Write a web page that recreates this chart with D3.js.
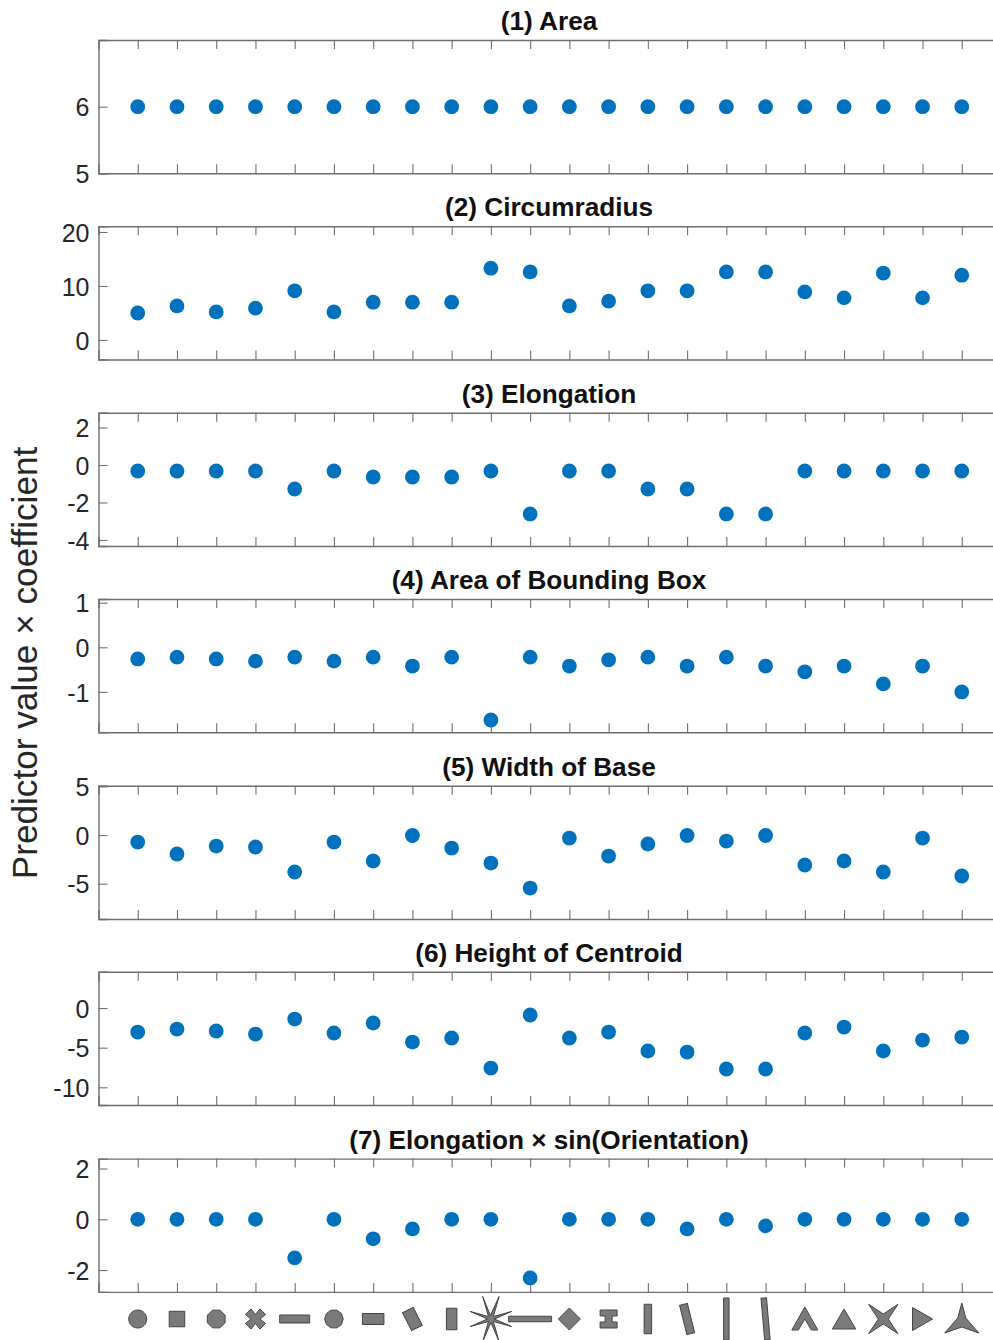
<!DOCTYPE html>
<html>
<head>
<meta charset="utf-8">
<script src="https://cdn.jsdelivr.net/npm/d3@7"></script>
<style>
  html, body { margin: 0; padding: 0; background: #fff; }
  svg { display: block; font-family: "Liberation Sans", Arial, sans-serif; }
</style>
</head>
<body>
<div id="chart"></div>
<script>
// one entry per panel, top to bottom
const titles = ["(1) Area", "(2) Circumradius", "(3) Elongation", "(4) Area of Bounding Box",
  "(5) Width of Base", "(6) Height of Centroid", "(7) Elongation \u00d7 sin(Orientation)"];

const yDomains = [[5, 7], [-3.61, 21.07], [-4.32, 2.79], [-1.906, 1.083], [-8.63, 5.07], [-12.23, 4.58], [-2.86, 2.39]];
const yTicks = [[5, 6], [0, 10, 20], [-4, -2, 0, 2], [-1, 0, 1], [-5, 0, 5], [-10, -5, 0], [-2, 0, 2]];

const area = [6, 6, 6, 6, 6, 6, 6, 6, 6, 6, 6, 6, 6, 6, 6, 6, 6, 6, 6, 6, 6, 6];
const circumradius = [5, 6.3, 5.2, 5.9, 9.1, 5.2, 7, 7, 7, 13.3, 12.6, 6.3, 7.2, 9.1, 9.1, 12.6, 12.6, 8.9, 7.8, 12.4, 7.8, 12];
const elongation = [-0.32, -0.32, -0.32, -0.32, -1.28, -0.32, -0.64, -0.64, -0.64, -0.32, -2.61, -0.32, -0.32, -1.28, -1.28, -2.61, -2.61, -0.32, -0.32, -0.32, -0.32, -0.32];
const boundingBox = [-0.26, -0.22, -0.26, -0.31, -0.22, -0.31, -0.22, -0.42, -0.22, -1.63, -0.22, -0.42, -0.28, -0.22, -0.42, -0.22, -0.42, -0.55, -0.42, -0.82, -0.42, -1];
const widthBase = [-0.72, -1.95, -1.13, -1.23, -3.8, -0.72, -2.67, -0.05, -1.34, -2.88, -5.45, -0.31, -2.16, -0.92, -0.05, -0.62, -0.05, -3.08, -2.67, -3.8, -0.31, -4.21];
const heightCentroid = [-3.03, -2.65, -2.9, -3.28, -1.39, -3.15, -1.89, -4.29, -3.78, -7.57, -0.88, -3.78, -3.03, -5.42, -5.55, -7.69, -7.69, -3.15, -2.4, -5.42, -4.04, -3.66];
const elongationSin = [0, 0, 0, 0, -1.52, 0, -0.77, -0.38, 0, 0, -2.31, 0, 0, 0, -0.38, 0, -0.26, 0, 0, 0, 0, 0];

const series = [area, circumradius, elongation, boundingBox, widthBase, heightCentroid, elongationSin];

// silhouettes under the last panel, in the order of the x positions
const shapeKinds = ["circle", "square", "octagon", "cross", "rect31", "decagon", "rect22", "tilted14",
  "rect11", "star8", "rect43", "diamond", "hbeam", "rect8", "tilted11", "rect6", "tilted6",
  "chevron", "triangle", "star4", "play", "star3"];

const width = 993, height = 1340;
const left = 98.5, panelH = 133.3;
const panelTops = [40, 226.2, 412.7, 599, 785.7, 971.7, 1158.6];

const svg = d3.select("#chart").append("svg")
    .attr("width", width)
    .attr("height", height);

// box runs past the right edge of the picture, same as the original crop
const x = d3.scaleLinear().domain([0, 23]).range([left, left + 23 * 39.24]);
const xIndex = d3.range(1, 23);

const axisColor = "#6e6e6e";
const textColor = "#262626";

series.forEach(function (values, i) {
  const top = panelTops[i];
  const y = d3.scaleLinear().domain(yDomains[i]).range([panelH, 0]);
  const g = svg.append("g").attr("transform", "translate(0," + top + ")");

  g.append("g")
      .attr("transform", "translate(0," + panelH + ")")
      .call(d3.axisBottom(x).tickValues(xIndex).tickSize(-9).tickFormat(""));
  g.append("g")
      .call(d3.axisTop(x).tickValues(xIndex).tickSize(-9).tickFormat(""));
  g.append("g")
      .attr("transform", "translate(" + left + ",0)")
      .call(d3.axisLeft(y).tickValues(yTicks[i]).tickSize(-9).tickPadding(9).tickFormat(d => String(d)));

  g.selectAll(".domain").attr("stroke", axisColor).attr("stroke-width", 1.4);
  g.selectAll(".tick line").attr("stroke", axisColor).attr("stroke-width", 1.1);
  g.selectAll(".tick text")
      .attr("fill", textColor)
      .attr("dy", "0.37em")
      .style("font-size", "25px");

  g.append("text")
      .attr("x", 549)
      .attr("y", -10)
      .attr("text-anchor", "middle")
      .attr("fill", "#111")
      .style("font-size", "26.2px")
      .style("font-weight", "bold")
      .text(titles[i]);

  g.selectAll("circle")
    .data(values)
    .join("circle")
      .attr("cx", (d, j) => x(xIndex[j]))
      .attr("cy", d => y(d))
      .attr("r", 7.4)
      .attr("fill", "#0072BD");
});

svg.append("text")
    .attr("transform", "translate(37,663) rotate(-90)")
    .attr("text-anchor", "middle")
    .attr("fill", textColor)
    .style("font-size", "35.2px")
    .text("Predictor value \u00d7 coefficient");

// helpers for the silhouette outlines, centred on 0,0
function rect(w, h) {
  return [[-w / 2, -h / 2], [w / 2, -h / 2], [w / 2, h / 2], [-w / 2, h / 2]];
}
function regular(n, r, start) {
  return d3.range(n).map(k => {
    const a = (start || 0) + k * 2 * Math.PI / n;
    return [r * Math.sin(a), -r * Math.cos(a)];
  });
}
function polar(list) {
  return list.map(([deg, r]) => [r * Math.sin(deg * Math.PI / 180), -r * Math.cos(deg * Math.PI / 180)]);
}

const outlines = {
  circle: regular(48, 9),
  square: rect(15.5, 15.5),
  octagon: regular(8, 9.6, Math.PI / 8),
  cross: polar([[0, 4.5], [24, 11], [66, 11], [90, 4.5], [114, 11], [156, 11], [180, 4.5], [204, 11], [246, 11], [270, 4.5], [294, 11], [336, 11]]),
  rect31: rect(30, 8),
  decagon: regular(10, 9.3, Math.PI / 10),
  rect22: rect(21.5, 11),
  tilted14: { pts: rect(12, 20), rot: -27 },
  rect11: rect(10.5, 21.5),
  star8: polar([[-20, 24], [-8, 3.5], [20, 24], [45, 3.5], [70, 22], [90, 3.5], [110, 22], [135, 3.5], [160, 24], [180, 3.5], [200, 24], [225, 3.5], [250, 22], [270, 3.5], [290, 22], [315, 3.5]]),
  rect43: rect(43, 5.5),
  diamond: regular(4, 11),
  hbeam: [[-8.5, -9], [8.5, -9], [8.5, -3], [3.5, -3], [3.5, 3], [8.5, 3], [8.5, 9], [-8.5, 9], [-8.5, 3], [-3.5, 3], [-3.5, -3], [-8.5, -3]],
  rect8: rect(7.5, 29.5),
  tilted11: { pts: rect(8, 30), rot: -14 },
  rect6: rect(5.5, 42),
  tilted6: { pts: rect(5.5, 42), rot: -5 },
  chevron: [[0, -12], [13, 11], [6.5, 11], [0, 0], [-6.5, 11], [-13, 11]],
  triangle: [[0, -10], [11.7, 10], [-11.7, 10]],
  star4: [[-14.7, -14.7], [0, -5], [14.7, -14.7], [5, 0], [14.7, 14.7], [0, 5], [-14.7, 14.7], [-5, 0]],
  play: [[-10, -11.5], [10, 0], [-10, 11.5]],
  star3: [[0, -16], [4, -1], [17, 14], [0, 8], [-17, 14], [-4, -1]]
};

svg.append("g")
  .selectAll("path")
  .data(shapeKinds)
  .join("path")
    .attr("transform", (d, j) => {
      const o = outlines[d];
      return "translate(" + x(xIndex[j]) + ",1319)" + (o.rot ? " rotate(" + o.rot + ")" : "");
    })
    .attr("d", d => {
      const o = outlines[d];
      return d3.line()(o.pts || o) + "Z";
    })
    .attr("fill", "#7a7a7a")
    .attr("stroke", "#444")
    .attr("stroke-width", 1)
    .attr("stroke-linejoin", "miter");
</script>
</body>
</html>
